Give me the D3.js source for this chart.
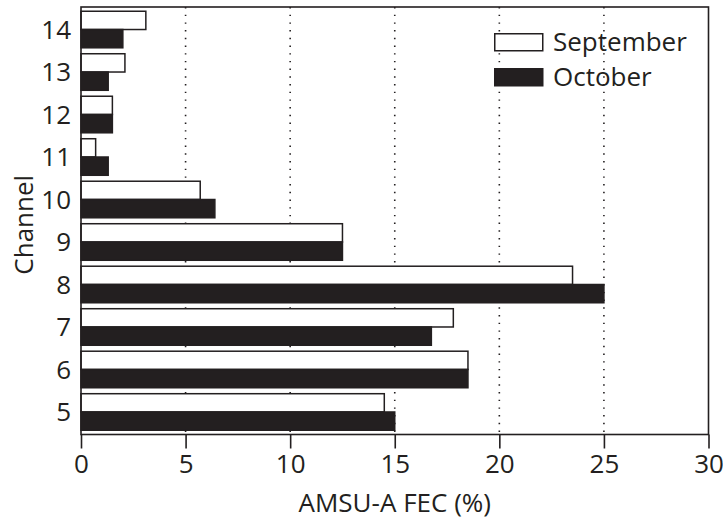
<!DOCTYPE html>
<html>
<head>
<meta charset="utf-8">
<script src="https://cdn.jsdelivr.net/npm/d3@7"></script>
<style>
  html, body { margin: 0; padding: 0; background: #fff; }
  svg { display: block; }
  text { font-family: "Open Sans", "Noto Sans", sans-serif; fill: #231f20; }
</style>
</head>
<body>
<svg id="chart" width="723" height="520"></svg>
<script>
// AMSU-A FEC (%) per channel, September vs October
const channels = [14, 13, 12, 11, 10, 9, 8, 7, 6, 5];
const september = [3.1, 2.1, 1.5, 0.7, 5.7, 12.5, 23.5, 17.8, 18.5, 14.5];
const october   = [2.0, 1.3, 1.5, 1.3, 6.4, 12.5, 25.0, 16.75, 18.5, 15.0];
const seriesNames = ["September", "October"];
const xTicks = [0, 5, 10, 15, 20, 25, 30];
const gridTicks = [5, 10, 15, 20, 25];

const ink = "#231f20";
const fontSize = "26px";
const W = 723, H = 520;
const margin = { top: 7, right: 14.5, bottom: 85.5, left: 81 };
const x0 = margin.left, x1 = W - margin.right;
const y0 = margin.top, y1 = H - margin.bottom;

const svg = d3.select("#chart");

const x = d3.scaleLinear().domain([0, 30]).range([x0, x1]);
const y = d3.scaleBand().domain(channels).range([y0, y1])
  .paddingInner(0.14).paddingOuter(0.1);
const sub = d3.scaleBand().domain(seriesNames).range([0, y.bandwidth()]);

const rows = channels.map((c, i) => ({ channel: c, values: [september[i], october[i]] }));

// dotted vertical guides
svg.append("g").selectAll("line").data(gridTicks).join("line")
  .attr("x1", d => x(d)).attr("x2", d => x(d))
  .attr("y1", y0).attr("y2", y1)
  .attr("stroke", ink).attr("stroke-width", 1.6)
  .attr("stroke-dasharray", "1.4,6.3");

// bars
const groups = svg.append("g").selectAll("g").data(rows).join("g")
  .attr("transform", d => `translate(0,${y(d.channel)})`);
groups.selectAll("rect")
  .data(d => d.values.map((v, k) => ({ name: seriesNames[k], v })))
  .join("rect")
  .attr("x", x(0))
  .attr("y", d => sub(d.name))
  .attr("width", d => x(d.v) - x(0))
  .attr("height", sub.bandwidth())
  .attr("fill", d => d.name === "September" ? "#fff" : ink)
  .attr("stroke", ink)
  .attr("stroke-width", 1.5);

// frame
svg.append("rect")
  .attr("x", x0).attr("y", y0)
  .attr("width", x1 - x0).attr("height", y1 - y0)
  .attr("fill", "none").attr("stroke", ink).attr("stroke-width", 1.6);

// bottom axis
const xAxis = svg.append("g")
  .attr("transform", `translate(0,${y1})`)
  .call(d3.axisBottom(x).tickValues(xTicks).tickSize(14).tickPadding(6).tickFormat(d3.format("d")));
xAxis.select(".domain").remove();
xAxis.selectAll(".tick line").attr("stroke", ink).attr("stroke-width", 1.6);
xAxis.selectAll(".tick text")
  .style("font-family", "'Open Sans', sans-serif")
  .style("font-size", fontSize).attr("fill", ink);

// left axis labels
const yAxis = svg.append("g")
  .attr("transform", `translate(${x0},1)`)
  .call(d3.axisLeft(y).tickSize(0).tickPadding(10));
yAxis.select(".domain").remove();
yAxis.selectAll(".tick text")
  .style("font-family", "'Open Sans', sans-serif")
  .style("font-size", fontSize).attr("fill", ink);

// axis titles
svg.append("text")
  .attr("x", (x0 + x1) / 2).attr("y", 512)
  .attr("text-anchor", "middle")
  .style("font-size", fontSize)
  .text("AMSU-A FEC (%)");

svg.append("text")
  .attr("transform", `translate(33,${(y0 + y1) / 2 + 4}) rotate(-90)`)
  .attr("text-anchor", "middle")
  .style("font-size", fontSize)
  .text("Channel");

// legend
const legend = svg.append("g").attr("transform", "translate(494,33)");
seriesNames.forEach((name, i) => {
  const g = legend.append("g").attr("transform", `translate(0,${i * 35})`);
  g.append("rect")
    .attr("x", 0.75).attr("y", 0.75)
    .attr("width", 48).attr("height", 17)
    .attr("fill", name === "September" ? "#fff" : ink)
    .attr("stroke", ink).attr("stroke-width", 1.5);
  g.append("text")
    .attr("x", 59).attr("y", 18)
    .style("font-size", fontSize)
    .text(name);
});
</script>
</body>
</html>
